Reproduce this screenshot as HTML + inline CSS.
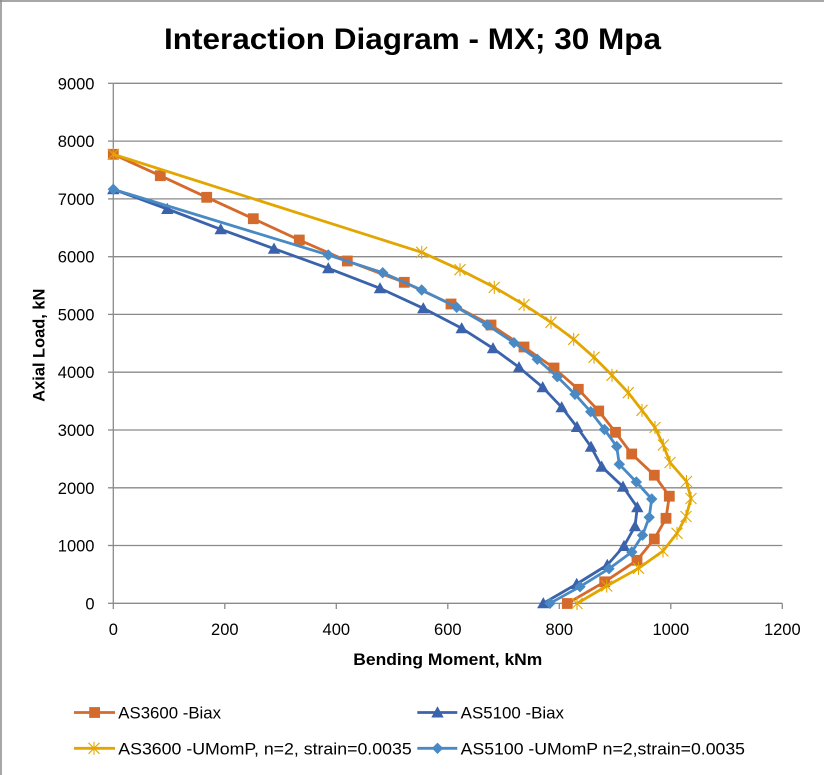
<!DOCTYPE html>
<html>
<head>
<meta charset="utf-8">
<style>
  html,body{margin:0;padding:0;background:#fff;}
  svg{display:block;}
  text{font-family:"Liberation Sans",sans-serif;fill:#000;}
</style>
</head>
<body>
<svg width="824" height="775" viewBox="0 0 824 775" xmlns="http://www.w3.org/2000/svg">
  <defs>
    <marker id="sq" markerUnits="userSpaceOnUse" markerWidth="12" markerHeight="12" refX="6" refY="6" overflow="visible">
      <rect x="0.6" y="0.6" width="10.8" height="10.8" fill="#D46A2B"/>
    </marker>
    <marker id="tri" markerUnits="userSpaceOnUse" markerWidth="12" markerHeight="12" refX="6" refY="6" overflow="visible">
      <polygon points="6,-0.2 12.2,11 -0.2,11" fill="#3A63AC"/>
    </marker>
    <marker id="dia" markerUnits="userSpaceOnUse" markerWidth="12" markerHeight="12" refX="6" refY="6" overflow="visible">
      <polygon points="6,0.3 11.7,6 6,11.7 0.3,6" fill="#4A8AC4"/>
    </marker>
    <marker id="star" markerUnits="userSpaceOnUse" markerWidth="12" markerHeight="12" refX="6" refY="6" overflow="visible">
      <g stroke="#E3A600" stroke-width="1.1">
        <line x1="0.5" y1="0.5" x2="11.5" y2="11.5"/>
        <line x1="11.5" y1="0.5" x2="0.5" y2="11.5"/>
        <line x1="6" y1="-0.5" x2="6" y2="12.5"/>
      </g>
    </marker>
  </defs>

  <!-- outer border (top & left) -->
  <line x1="0" y1="1" x2="824" y2="1" stroke="#8a8a8a" stroke-width="1.5"/>
  <line x1="1" y1="0" x2="1" y2="775" stroke="#8a8a8a" stroke-width="1.5"/>

  <!-- title -->
  <text x="164" y="49" font-size="30" font-weight="bold" textLength="497" lengthAdjust="spacingAndGlyphs">Interaction Diagram - MX; 30 Mpa</text>

  <!-- gridlines -->
  <g stroke="#8a8a8a" stroke-width="1.3">
    <line x1="113.3" y1="83.3" x2="782.3" y2="83.3"/>
    <line x1="113.3" y1="141.1" x2="782.3" y2="141.1"/>
    <line x1="113.3" y1="198.9" x2="782.3" y2="198.9"/>
    <line x1="113.3" y1="256.7" x2="782.3" y2="256.7"/>
    <line x1="113.3" y1="314.4" x2="782.3" y2="314.4"/>
    <line x1="113.3" y1="372.2" x2="782.3" y2="372.2"/>
    <line x1="113.3" y1="430.0" x2="782.3" y2="430.0"/>
    <line x1="113.3" y1="487.8" x2="782.3" y2="487.8"/>
    <line x1="113.3" y1="545.5" x2="782.3" y2="545.5"/>
    <line x1="113.3" y1="603.3" x2="782.3" y2="603.3"/>
    <!-- y axis -->
    <line x1="113.3" y1="83.3" x2="113.3" y2="603.3"/>
    <!-- y ticks -->
    <line x1="108" y1="83.3" x2="113.3" y2="83.3"/>
    <line x1="108" y1="141.1" x2="113.3" y2="141.1"/>
    <line x1="108" y1="198.9" x2="113.3" y2="198.9"/>
    <line x1="108" y1="256.7" x2="113.3" y2="256.7"/>
    <line x1="108" y1="314.4" x2="113.3" y2="314.4"/>
    <line x1="108" y1="372.2" x2="113.3" y2="372.2"/>
    <line x1="108" y1="430.0" x2="113.3" y2="430.0"/>
    <line x1="108" y1="487.8" x2="113.3" y2="487.8"/>
    <line x1="108" y1="545.5" x2="113.3" y2="545.5"/>
    <line x1="108" y1="603.3" x2="113.3" y2="603.3"/>
    <!-- x ticks -->
    <line x1="113.3" y1="603.3" x2="113.3" y2="609"/>
    <line x1="224.8" y1="603.3" x2="224.8" y2="609"/>
    <line x1="336.3" y1="603.3" x2="336.3" y2="609"/>
    <line x1="447.8" y1="603.3" x2="447.8" y2="609"/>
    <line x1="559.3" y1="603.3" x2="559.3" y2="609"/>
    <line x1="670.8" y1="603.3" x2="670.8" y2="609"/>
    <line x1="782.3" y1="603.3" x2="782.3" y2="609"/>
  </g>

  <!-- y tick labels -->
  <g font-size="16.5" text-anchor="end">
    <text x="94.5" y="89.3">9000</text>
    <text x="94.5" y="147.1">8000</text>
    <text x="94.5" y="204.9">7000</text>
    <text x="94.5" y="262.7">6000</text>
    <text x="94.5" y="320.4">5000</text>
    <text x="94.5" y="378.2">4000</text>
    <text x="94.5" y="436.0">3000</text>
    <text x="94.5" y="493.8">2000</text>
    <text x="94.5" y="551.5">1000</text>
    <text x="94.5" y="609.3">0</text>
  </g>
  <!-- x tick labels -->
  <g font-size="16.5" text-anchor="middle">
    <text x="113.3" y="635">0</text>
    <text x="224.8" y="635">200</text>
    <text x="336.3" y="635">400</text>
    <text x="447.8" y="635">600</text>
    <text x="559.3" y="635">800</text>
    <text x="670.8" y="635">1000</text>
    <text x="782.3" y="635">1200</text>
  </g>

  <!-- axis titles -->
  <text x="353.3" y="665" font-size="17" font-weight="bold" textLength="189" lengthAdjust="spacingAndGlyphs">Bending Moment, kNm</text>
  <text transform="translate(44.5,401.7) rotate(-90)" x="0" y="0" font-size="17" font-weight="bold" textLength="113" lengthAdjust="spacingAndGlyphs">Axial Load, kN</text>

  <!-- series: AS3600 -Biax -->
  <polyline fill="none" stroke="#D46A2B" stroke-width="2.8" stroke-linejoin="round"
    marker-start="url(#sq)" marker-mid="url(#sq)" marker-end="url(#sq)"
    points="113.3,154.3 160.3,175.7 206.7,197.3 253.3,218.7 299.3,240 347.3,261 404.3,282.3 451,304 491,325 524,347 554,368 578.3,389.3 598.7,411 615.5,432.3 631.7,454 654.3,475.2 669.3,496.2 666,518.3 654.3,539 637,560.3 604.7,581.8 567.3,603.5"/>

  <!-- series: AS5100 -Biax -->
  <polyline fill="none" stroke="#3A63AC" stroke-width="2.8" stroke-linejoin="round"
    marker-start="url(#tri)" marker-mid="url(#tri)" marker-end="url(#tri)"
    points="113.3,189.3 167.3,209 220.7,229.3 274,248.7 328.3,268.3 380,288.3 423.3,308.3 461.7,328.3 493,348.3 519,367.3 542.7,387.3 561.7,407.3 577,427 591,446.8 601.7,466.7 623,486.7 637.3,507.3 635,526.3 624,546 607.3,565 576.7,584 543.3,603.3"/>

  <!-- series: AS3600 -UMomP -->
  <polyline fill="none" stroke="#E3A600" stroke-width="2.8" stroke-linejoin="round"
    marker-start="url(#star)" marker-mid="url(#star)" marker-end="url(#star)"
    points="113.3,154.3 421.7,252.3 460,269.7 494.3,287.3 524,304.7 551,322.3 573.7,339.3 594,357.3 612,375.3 628.3,392.7 642,410.3 655,427.5 663.3,445 670,462.5 686.5,481.5 691,498.5 686,516.5 677,533.3 663,551 638.5,568.3 606.7,586 577,603.5"/>

  <!-- series: AS5100 -UMomP -->
  <polyline fill="none" stroke="#4A8AC4" stroke-width="2.8" stroke-linejoin="round"
    marker-start="url(#dia)" marker-mid="url(#dia)" marker-end="url(#dia)"
    points="113.3,189.3 328.3,255 382.7,272.7 421.7,290 456.7,307.3 487.3,325 514,342.7 537.3,359.3 557.3,376.7 575,394.3 590.7,411.7 604.5,429.5 616.7,446.5 619.3,464.3 636.3,482 651.7,499 649.2,517.3 642.5,535.2 631.8,552 609,568.7 580,586.7 550,603.3"/>

  <!-- legend -->
  <line x1="74" y1="712.5" x2="115" y2="712.5" stroke="#D46A2B" stroke-width="2.8"/>
  <rect x="89.2" y="707.1" width="10.8" height="10.8" fill="#D46A2B"/>
  <text x="118.3" y="718.5" font-size="16.5" textLength="102.7" lengthAdjust="spacingAndGlyphs">AS3600 -Biax</text>

  <line x1="74" y1="748.3" x2="115" y2="748.3" stroke="#E3A600" stroke-width="2.8"/>
  <g stroke="#E3A600" stroke-width="1.1">
    <line x1="88.5" y1="742.8" x2="99.5" y2="753.8"/>
    <line x1="99.5" y1="742.8" x2="88.5" y2="753.8"/>
    <line x1="94" y1="741.8" x2="94" y2="754.8"/>
  </g>
  <text x="118.3" y="754.3" font-size="16.5" textLength="293.4" lengthAdjust="spacingAndGlyphs">AS3600 -UMomP, n=2, strain=0.0035</text>

  <line x1="417.3" y1="712.5" x2="457.3" y2="712.5" stroke="#3A63AC" stroke-width="2.8"/>
  <polygon points="437.5,706.3 443.7,717.5 431.3,717.5" fill="#3A63AC"/>
  <text x="460.7" y="718.5" font-size="16.5" textLength="103.3" lengthAdjust="spacingAndGlyphs">AS5100 -Biax</text>

  <line x1="417.3" y1="748.3" x2="457.3" y2="748.3" stroke="#4A8AC4" stroke-width="2.8"/>
  <polygon points="437.5,742.6 443.2,748.3 437.5,754 431.8,748.3" fill="#4A8AC4"/>
  <text x="460.7" y="754.3" font-size="16.5" textLength="284.3" lengthAdjust="spacingAndGlyphs">AS5100 -UMomP n=2,strain=0.0035</text>
</svg>
</body>
</html>
